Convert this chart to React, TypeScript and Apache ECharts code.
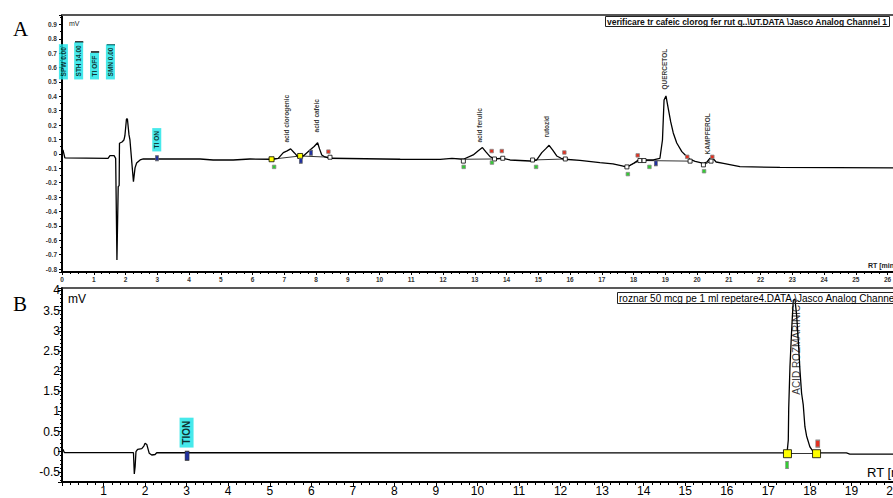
import React, { useEffect, useRef } from 'react';
import * as echarts from 'echarts';

// ---------------- Panel A : reference mix ----------------
const timeA = [0, 0.03, 0.09, 1.45, 1.51, 1.64, 1.69, 1.73, 1.77, 1.80, 1.81, 1.89, 1.95, 1.98, 2.03, 2.06, 2.11, 2.14, 2.20, 2.25, 2.30, 2.35, 2.46, 2.56, 4.35, 4.76, 5.39, 5.92, 6.60, 6.81, 6.97, 7.09, 7.20, 7.32, 7.44, 7.50, 7.60, 7.81, 7.94, 8.05, 8.11, 8.18, 8.28, 8.44, 10.65, 11.91, 12.28, 12.64, 12.95, 13.10, 13.24, 13.35, 13.48, 13.64, 13.89, 14.11, 14.74, 14.95, 15.11, 15.23, 15.34, 15.46, 15.58, 15.72, 15.84, 16.31, 16.94, 17.35, 17.64, 17.79, 18.00, 18.14, 18.36, 18.62, 18.83, 18.91, 18.96, 19.02, 19.10, 19.17, 19.25, 19.36, 19.52, 19.68, 19.78, 19.94, 20.20, 20.31, 20.41, 20.50, 20.60, 20.83, 21.35, 22.61, 27.0];
const valueA = [0.007, 0.028, -0.028, -0.031, -0.012, -0.012, -0.031, -0.736, -0.227, -0.22, 0.074, 0.083, 0.097, 0.125, 0.243, 0.243, 0.132, 0.097, -0.063, -0.192, -0.097, -0.063, -0.042, -0.035, -0.035, -0.042, -0.042, -0.035, -0.037, -0.031, 0.009, 0.021, 0.035, 0.007, -0.023, -0.014, -0.014, 0.028, 0.052, 0.078, 0.035, -0.007, -0.021, -0.03, -0.037, -0.038, -0.031, -0.037, -0.007, 0.021, 0.044, 0.014, -0.019, -0.035, -0.03, -0.042, -0.049, -0.042, 0.009, 0.035, 0.06, 0.024, -0.014, -0.03, -0.037, -0.045, -0.06, -0.069, -0.083, -0.092, -0.065, -0.045, -0.042, -0.042, -0.03, 0.097, 0.375, 0.403, 0.306, 0.222, 0.146, 0.076, 0.016, -0.019, -0.038, -0.052, -0.066, -0.056, -0.03, -0.031, -0.056, -0.065, -0.088, -0.094, -0.097];

const peakNamesA = ['acid clorogenic', 'acid cafeic', 'acid ferulic', 'rutozid', 'QUERCETOL', 'KAMPFEROL'];
const peakTimesA = [7.08, 8.02, 13.17, 15.27, 18.99, 20.34];
const peakLabelValuesA = [0.076, 0.146, 0.076, 0.11, 0.444, -0.007];

const eventNamesA = ['SPW 0.00', 'STH 14.00', 'TI OFF', 'SMN 0.00', 'TI ON'];
const eventTimesA = [0.06, 0.54, 1.04, 1.54, 3.0];
const eventValuesA = [0.514, 0.514, 0.514, 0.514, 0.014];
const eventTopValuesA = [0.77, 0.78, 0.71, 0.76];

const squareTimesA = [8.44, 12.64, 13.62, 13.88, 14.82, 15.85, 17.79, 18.2, 18.33, 19.78, 20.2, 20.44];
const squareValuesA = [-0.023, -0.05, -0.035, -0.03, -0.042, -0.035, -0.09, -0.046, -0.046, -0.05, -0.076, -0.05];
const yellowTimesA = [6.6, 7.5];
const yellowValuesA = [-0.037, -0.014];
const greenTimesA = [6.68, 12.65, 13.54, 14.93, 17.82, 18.5, 20.22];
const greenValuesA = [-0.09, -0.09, -0.06, -0.09, -0.14, -0.09, -0.12];
const redTimesA = [8.39, 13.53, 13.85, 15.82, 18.13, 19.69, 20.48];
const redValuesA = [0.016, 0.02, 0.02, 0.01, -0.01, -0.02, -0.02];
const blueTimesA = [2.99, 7.52, 7.84, 18.7];
const blueValuesA = [-0.03, -0.047, 0.009, -0.065];
const baseStartA = [[6.6, -0.037], [7.5, -0.014], [12.64, -0.037], [13.62, -0.035], [14.82, -0.042], [17.79, -0.09], [18.33, -0.046], [20.2, -0.076]];
const baseEndA = [[7.5, -0.014], [8.44, -0.023], [13.62, -0.035], [13.88, -0.03], [15.85, -0.035], [18.2, -0.046], [19.78, -0.05], [20.44, -0.05]];

// ---------------- Panel B : rosemary sample ----------------
const timeB = [0, 0.02, 0.06, 1.72, 1.74, 1.76, 1.78, 1.82, 1.92, 1.97, 2.0, 2.04, 2.1, 2.16, 2.24, 2.28, 17.4, 17.45, 17.48, 17.49, 17.52, 17.56, 17.6, 17.64, 17.68, 17.72, 17.76, 17.8, 17.84, 17.88, 17.92, 18.0, 18.08, 18.16, 18.88, 18.96, 20.6];
const valueB = [-0.025, 0.06, -0.025, -0.025, -0.553, -0.372, 0, 0.06, 0.074, 0.14, 0.21, 0.18, -0.04, -0.082, -0.07, -0.025, -0.03, -0.03, 0.29, 1.08, 2.1, 3.0, 3.76, 3.79, 3.39, 2.77, 2.03, 1.45, 1.16, 0.62, 0.39, 0.12, 0.0, -0.03, -0.03, -0.06, -0.06];

const peakNamesB = ['ACID ROZMARINIC'];
const peakTimesB = [17.7];
const peakLabelValuesB = [1.4];
const eventNamesB = ['TION'];
const eventTimesB = [3.01];
const eventValuesB = [0.09];
const yellowTimesB = [17.46, 18.16];
const yellowValuesB = [-0.05, -0.05];
const greenTimesB = [17.45];
const greenValuesB = [-0.33];
const redTimesB = [18.19];
const redValuesB = [0.2];
const blueTimesB = [3.01];
const blueValuesB = [-0.1];
const baseStartB = [[17.46, -0.03]];
const baseEndB = [[18.16, -0.03]];

// axis ranges (the plots run past the right edge of the picture)
const xRangeA = [0, 26.17];
const yRangeA = [-0.82, 0.965];
const xRangeB = [0, 20.0];
const yRangeB = [-0.752, 4.062];

const titleA = 'verificare tr cafeic clorog fer rut q..\\UT.DATA \\Jasco Analog Channel 1';
const titleB = 'roznar 50 mcg pe 1 ml repetare4.DATA \\Jasco Analog Channel 1';

const FONT = '"Liberation Sans", Arial, sans-serif';

const zip = (t: number[], v: number[]) => t.map((x, i) => [x, v[i]]);

function stepFmt(step: number, hideZero = false) {
  return (v: number) => {
    const r = Math.round(v / step);
    if (Math.abs(v / step - r) > 1e-6) return '';
    const val = Math.round(r * step * 100) / 100;
    if (hideZero && val === 0) return '';
    return String(val);
  };
}

function markers(name: string, t: number[], v: number[], axis: number, symbol: string, size: any, color: string, border: string) {
  return {
    type: 'scatter', name, xAxisIndex: axis, yAxisIndex: axis, silent: true, z: 6,
    symbol, symbolSize: size,
    itemStyle: { color, borderColor: border, borderWidth: 0.8, opacity: 1 },
    data: zip(t, v),
  };
}

function rotLabels(t: number[], v: number[], names: string[], axis: number, fontSize: number, extra: any = {}) {
  return {
    type: 'scatter', xAxisIndex: axis, yAxisIndex: axis, silent: true, z: 7,
    symbolSize: 1, itemStyle: { color: 'rgba(0,0,0,0)' },
    data: names.map((n, i) => ({ name: n, value: [t[i], v[i]] })),
    label: {
      show: true, formatter: '{b}', position: [0, 0], rotate: 90,
      align: 'left', verticalAlign: 'middle',
      fontSize, fontFamily: FONT, color: '#000', ...extra,
    },
  };
}

function topAxis(grid: number, range: number[], color: string, width: number) {
  return {
    type: 'value', gridIndex: grid, position: 'top', min: range[0], max: range[1],
    axisLine: { show: true, onZero: false, lineStyle: { color, width } },
    axisTick: { show: false }, axisLabel: { show: false }, splitLine: { show: false },
  };
}

function buildOption() {
  const axisLineStyle = { color: '#000', width: 2 };
  return {
    animation: false,
    backgroundColor: '#fff',
    title: [
      {
        text: titleA, left: 605, top: 16, padding: [1, 2],
        borderColor: '#222', borderWidth: 1,
        textStyle: { fontSize: 8.5, fontWeight: 'bold', color: '#111', fontFamily: FONT },
      },
      {
        text: titleB, left: 617, top: 292, padding: [1, 2],
        borderColor: '#222', borderWidth: 1,
        textStyle: { fontSize: 10, fontWeight: 'normal', color: '#000', fontFamily: FONT },
      },
    ],
    grid: [
      { left: 62, right: 0, top: 15, bottom: 226, containLabel: false, outerBoundsMode: 'none' },
      { left: 62, right: 0, top: 288, bottom: 16, containLabel: false, outerBoundsMode: 'none' },
    ],
    xAxis: [
      {
        type: 'value', gridIndex: 0, min: xRangeA[0], max: xRangeA[1], splitNumber: 26, minInterval: 1, maxInterval: 1,
        axisLine: { show: true, onZero: false, lineStyle: axisLineStyle },
        axisTick: { show: true, length: 3, lineStyle: { color: '#000' } },
        minorTick: { show: true, splitNumber: 4, length: 2, lineStyle: { color: '#000' } },
        splitLine: { show: false },
        axisLabel: { fontSize: 6.5, fontWeight: 'bold', color: '#333', fontFamily: FONT, margin: 4, showMaxLabel: false, formatter: stepFmt(1) },
      },
      {
        type: 'value', gridIndex: 1, min: xRangeB[0], max: xRangeB[1], splitNumber: 20, minInterval: 1, maxInterval: 1,
        axisLine: { show: true, onZero: false, lineStyle: axisLineStyle },
        axisTick: { show: true, length: 4, lineStyle: { color: '#000' } },
        minorTick: { show: true, splitNumber: 5, length: 3, lineStyle: { color: '#000' } },
        splitLine: { show: false },
        axisLabel: { fontSize: 12, color: '#000', fontFamily: FONT, margin: 3, showMinLabel: false, showMaxLabel: true, formatter: stepFmt(1, true) },
      },
      topAxis(0, xRangeA, '#555', 2),
      topAxis(1, xRangeB, '#222', 1.5),
    ],
    yAxis: [
      {
        type: 'value', gridIndex: 0, min: yRangeA[0], max: yRangeA[1], splitNumber: 18, minInterval: 0.1, maxInterval: 0.1,
        axisLine: { show: true, onZero: false, lineStyle: axisLineStyle },
        axisTick: { show: true, length: 3, lineStyle: { color: '#000' } },
        minorTick: { show: true, splitNumber: 2, length: 2, lineStyle: { color: '#000' } },
        splitLine: { show: false },
        axisLabel: { fontSize: 6.5, fontWeight: 'bold', color: '#333', fontFamily: FONT, margin: 5, showMinLabel: false, showMaxLabel: false, formatter: stepFmt(0.1) },
      },
      {
        type: 'value', gridIndex: 1, min: yRangeB[0], max: yRangeB[1], splitNumber: 10, minInterval: 0.5, maxInterval: 0.5,
        axisLine: { show: true, onZero: false, lineStyle: axisLineStyle },
        axisTick: { show: true, length: 4, lineStyle: { color: '#000' } },
        minorTick: { show: true, splitNumber: 5, length: 2, lineStyle: { color: '#000' } },
        splitLine: { show: false },
        axisLabel: { fontSize: 12, color: '#000', fontFamily: FONT, margin: 2, showMinLabel: false, showMaxLabel: false, formatter: stepFmt(0.5) },
      },
    ],
    graphic: [
      { type: 'text', x: 20.5, y: 28.5, style: { text: 'A', font: '21px "Liberation Serif", serif', fill: '#000', align: 'center', verticalAlign: 'middle' } },
      { type: 'text', x: 20, y: 304, style: { text: 'B', font: '21px "Liberation Serif", serif', fill: '#000', align: 'center', verticalAlign: 'middle' } },
      { type: 'text', x: 69, y: 23, style: { text: 'mV', font: '7px ' + FONT, fill: '#222', align: 'left', verticalAlign: 'middle' } },
      { type: 'text', x: 68, y: 299, style: { text: 'mV', font: '12px ' + FONT, fill: '#000', align: 'left', verticalAlign: 'middle' } },
      { type: 'text', x: 868, y: 265, style: { text: 'RT [min]', font: 'bold 7px ' + FONT, fill: '#222', align: 'left', verticalAlign: 'middle' } },
      { type: 'text', x: 867, y: 472, style: { text: 'RT [min]', font: '13px ' + FONT, fill: '#000', align: 'left', verticalAlign: 'middle' } },
    ],
    series: [
      {
        type: 'line', name: 'A', xAxisIndex: 0, yAxisIndex: 0, data: zip(timeA, valueA),
        showSymbol: false, symbol: 'none', silent: true, z: 3,
        lineStyle: { color: '#000', width: 1.3 },
        markLine: {
          silent: true, symbol: ['none', 'none'], label: { show: false },
          lineStyle: { color: '#000', width: 0.8, type: 'solid' },
          data: baseStartA.map((s, i) => [{ coord: s }, { coord: baseEndA[i] }]),
        },
      },
      {
        type: 'line', name: 'B', xAxisIndex: 1, yAxisIndex: 1, data: zip(timeB, valueB),
        showSymbol: false, symbol: 'none', silent: true, z: 3,
        lineStyle: { color: '#000', width: 1.3 },
        markLine: {
          silent: true, symbol: ['none', 'none'], label: { show: false },
          lineStyle: { color: '#000', width: 0.8, type: 'solid' },
          data: baseStartB.map((s, i) => [{ coord: s }, { coord: baseEndB[i] }]),
        },
      },
      rotLabels(peakTimesA, peakLabelValuesA, peakNamesA, 0, 6.5, { fontWeight: 'bold' }),
      rotLabels(peakTimesB, peakLabelValuesB, peakNamesB, 1, 10),
      {
        ...rotLabels(eventTimesA, eventValuesA, eventNamesA, 0, 6.5, { fontWeight: 'bold', backgroundColor: '#19E3E6', padding: [1, 3] }),
        markLine: {
          silent: true, symbol: ['none', 'none'], label: { show: false },
          lineStyle: { color: '#000', width: 1.5, type: 'solid' },
          data: [
            [{ coord: [eventTimesA[0] - 0.1, eventValuesA[0]] }, { coord: [eventTimesA[3] + 0.13, eventValuesA[3]] }],
            ...eventTopValuesA.map((tv, i) => [{ coord: [eventTimesA[i] - 0.13, tv] }, { coord: [eventTimesA[i] + 0.13, tv] }]),
          ],
        },
      },
      rotLabels(eventTimesB, eventValuesB, eventNamesB, 1, 10, { fontWeight: 'bold', backgroundColor: '#19E3E6', padding: [2, 3] }),
      markers('squaresA', squareTimesA, squareValuesA, 0, 'rect', 4, '#fff', '#000'),
      markers('yellowA', yellowTimesA, yellowValuesA, 0, 'rect', 5, '#FFFF00', '#000'),
      markers('greenA', greenTimesA, greenValuesA, 0, 'rect', 3.5, '#33CC33', '#888'),
      markers('redA', redTimesA, redValuesA, 0, 'rect', 3.5, '#E53020', '#888'),
      markers('blueA', blueTimesA, blueValuesA, 0, 'rect', [3, 5], '#2030A0', '#666'),
      markers('yellowB', yellowTimesB, yellowValuesB, 1, 'rect', 8, '#FFFF00', '#000'),
      markers('greenB', greenTimesB, greenValuesB, 1, 'rect', [3, 7], '#33CC33', '#888'),
      markers('redB', redTimesB, redValuesB, 1, 'rect', [4, 7], '#E53020', '#888'),
      markers('blueB', blueTimesB, blueValuesB, 1, 'rect', [4, 9], '#2030A0', '#333'),
    ],
  };
}

export default function App() {
  const ref = useRef<HTMLDivElement>(null);
  useEffect(() => {
    if (!ref.current) return;
    const chart = echarts.init(ref.current, null, { renderer: 'svg' });
    chart.setOption(buildOption() as any);
    return () => chart.dispose();
  }, []);
  return (
    <div
      ref={ref}
      style={{ position: 'fixed', left: 0, top: 0, width: 893, height: 498, background: '#fff' }}
    />
  );
}
